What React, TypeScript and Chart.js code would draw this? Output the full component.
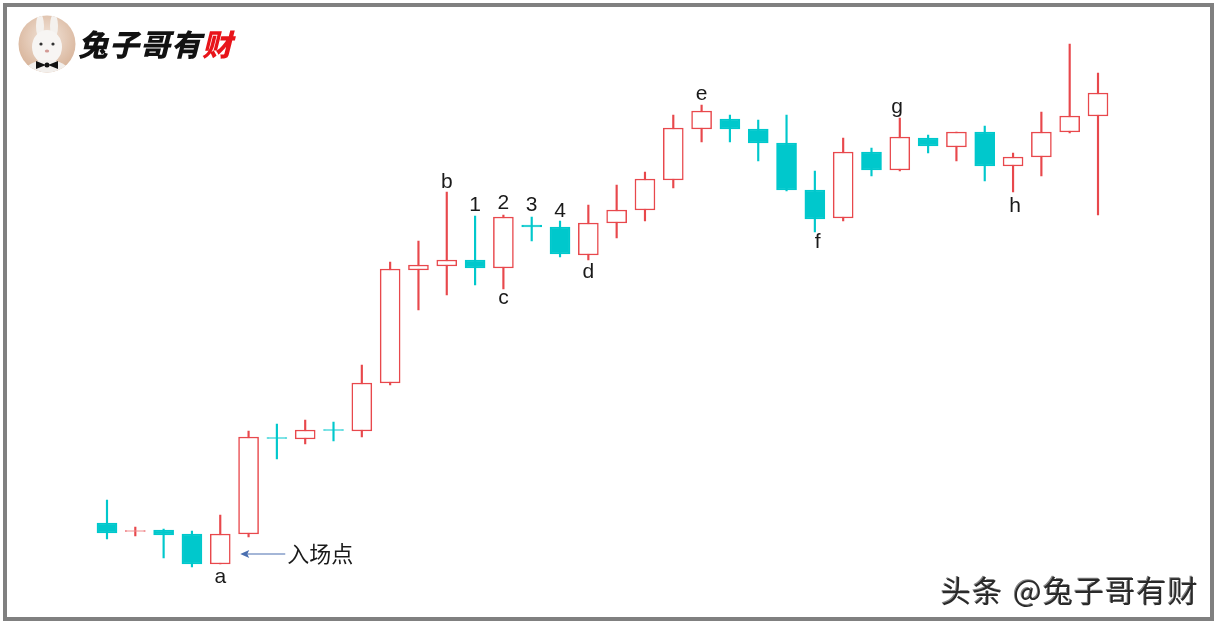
import React, { useEffect, useRef } from "react";
import { Chart, registerables } from "chart.js";

Chart.register(...registerables);

// Candle data (price units)
const opens = [100, 91.5, 93, 89, 59, 89, 185.5, 184, 193.5, 192, 240, 353, 357, 363, 355, 398, 396, 368, 400, 413, 443, 494, 504, 494, 480, 433, 405, 471, 453, 485, 476, 491, 457, 466, 491, 507];
const closes = [90, 92.5, 88, 59, 89, 186, 184.5, 193, 192.5, 240, 354, 358, 363, 355, 406, 396, 369, 400, 413, 444, 495, 512, 494, 480, 433, 404, 471, 453, 486, 477, 491, 457, 466, 491, 507, 530];
const highs = [123, 96, 94, 92, 108, 192, 199, 203, 201, 258, 361, 382, 431, 407, 408, 406, 402, 418, 438, 451, 508, 518, 508, 503, 508, 452, 485, 475, 505, 488, 491, 497, 470, 511, 579, 550];
const lows = [84, 87, 65, 56, 59, 86, 164, 179, 182, 186, 238, 313, 328, 338, 334, 382, 366, 363, 385, 402, 435, 481, 481, 462, 432, 391, 402, 447, 452, 470, 462, 442, 431, 447, 490, 408];
const categories = opens.map((_, i) => String(i + 1));

// Annotation letters: candle index, price, text
const noteIndex = [4, 12, 13, 14, 15, 16, 14, 17, 21, 25.1, 27.9, 32.07];
const notePrice = [46, 441, 418, 420, 418, 412, 325, 351, 529, 381, 516, 417];
const noteText = ["a", "b", "1", "2", "3", "4", "c", "d", "e", "f", "g", "h"];
const entryLabel = "入场点";
const entryIndex = 4;
const entryPrice = 69;

const RED = "#E8484C";
const CYAN = "#00C8CC";

export default function App() {
  const ref = useRef<HTMLCanvasElement | null>(null);

  useEffect(() => {
    if (!ref.current) return;
    const up = opens.map((o, i) => closes[i] >= o);
    const notePlugin = {
      id: "notes",
      afterDatasetsDraw(chart: any) {
        const ctx = chart.ctx;
        const xs = chart.scales.x;
        const ys = chart.scales.y;
        ctx.save();
        ctx.fillStyle = "#1a1a1a";
        ctx.font = '21px "Liberation Sans", Arial, sans-serif';
        ctx.textAlign = "center";
        ctx.textBaseline = "middle";
        noteText.forEach((t, i) => {
          const x0 = xs.getPixelForValue(Math.floor(noteIndex[i]));
          const x1 = xs.getPixelForValue(Math.floor(noteIndex[i]) + 1);
          const x = x0 + (x1 - x0) * (noteIndex[i] - Math.floor(noteIndex[i]));
          ctx.fillText(t, x, ys.getPixelForValue(notePrice[i]));
        });
        // entry arrow
        const cx = xs.getPixelForValue(entryIndex);
        const y = ys.getPixelForValue(entryPrice);
        const headX = cx + 20;
        const tailX = cx + 65;
        ctx.strokeStyle = "#4a6fb0";
        ctx.fillStyle = "#4a6fb0";
        ctx.lineWidth = 1.2;
        ctx.beginPath();
        ctx.moveTo(tailX, y);
        ctx.lineTo(headX + 6, y);
        ctx.stroke();
        ctx.beginPath();
        ctx.moveTo(headX, y);
        ctx.lineTo(headX + 9, y - 4);
        ctx.lineTo(headX + 7, y);
        ctx.lineTo(headX + 9, y + 4);
        ctx.closePath();
        ctx.fill();
        ctx.fillStyle = "#1a1a1a";
        ctx.font = '22px "Noto Sans CJK SC", sans-serif';
        ctx.textAlign = "left";
        ctx.fillText(entryLabel, tailX + 2, y);
        ctx.restore();
      },
    };

    const chart = new Chart(ref.current, {
      type: "bar",
      data: {
        labels: categories,
        datasets: [
          {
            data: lows.map((l, i) => [l, highs[i]]) as any,
            backgroundColor: up.map((u) => (u ? RED : CYAN)),
            borderWidth: 0,
            barThickness: 1.5,
            grouped: false,
            order: 2,
          } as any,
          {
            data: opens.map((o, i) => [o, closes[i]]) as any,
            backgroundColor: up.map((u) => (u ? "#ffffff" : CYAN)),
            borderColor: up.map((u) => (u ? RED : CYAN)),
            borderWidth: 1.5,
            borderSkipped: false,
            barThickness: 20,
            grouped: false,
            order: 1,
          } as any,
        ],
      },
      options: {
        responsive: false,
        animation: false,
        layout: { padding: { left: 92.84, right: 103.84, top: 0, bottom: 0 } },
        plugins: { legend: { display: false }, tooltip: { enabled: false } },
        scales: {
          x: { display: false, offset: true },
          y: { display: false, min: 0, max: 623 },
        },
      },
      plugins: [notePlugin],
    });
    return () => chart.destroy();
  }, []);

  return (
    <div style={{ position: "fixed", left: 0, top: 0, width: 1216, height: 623, background: "#fff", overflow: "hidden" }}>
      <canvas ref={ref} width={1216} height={623} style={{ position: "absolute", left: 0, top: 0, width: 1216, height: 623 }} />
      {/* Logo */}
      <svg width={60} height={60} viewBox="0 0 60 60" style={{ position: "absolute", left: 17, top: 14 }}>
        <defs>
          <radialGradient id="bg" cx="50%" cy="40%" r="60%">
            <stop offset="0%" stopColor="#f3e6dc" />
            <stop offset="100%" stopColor="#d8b49a" />
          </radialGradient>
          <clipPath id="cc"><circle cx="30" cy="30" r="28.5" /></clipPath>
        </defs>
        <circle cx="30" cy="30" r="28.5" fill="url(#bg)" />
        <g clipPath="url(#cc)">
          <ellipse cx="23" cy="12" rx="4" ry="12" fill="#f4f1ee" />
          <ellipse cx="37" cy="12" rx="4" ry="12" fill="#f4f1ee" />
          <ellipse cx="30" cy="33" rx="15" ry="17" fill="#f7f5f3" />
          <ellipse cx="30" cy="58" rx="22" ry="12" fill="#f2efec" />
          <circle cx="24" cy="30" r="1.6" fill="#333" />
          <circle cx="36" cy="30" r="1.6" fill="#333" />
          <ellipse cx="30" cy="37" rx="2.2" ry="1.5" fill="#d39a95" />
          <path d="M19 47 L29 51 L19 55 Z M41 47 L31 51 L41 55 Z" fill="#111" />
          <circle cx="30" cy="51" r="2.5" fill="#111" />
        </g>
      </svg>
      <div
        style={{
          position: "absolute",
          left: 78,
          top: 24,
          fontFamily: '"Noto Sans CJK SC", sans-serif',
          fontWeight: 900,
          fontSize: 30,
          lineHeight: "38px",
          color: "#111",
          fontStyle: "italic",
          letterSpacing: 1,
        }}
      >
        兔子哥有<span style={{ color: "#e8141a" }}>财</span>
      </div>
      {/* Watermark */}
      <div
        style={{
          position: "absolute",
          left: 941,
          top: 569,
          fontFamily: '"Noto Sans CJK SC", sans-serif',
          fontSize: 30,
          lineHeight: "40px",
          letterSpacing: 1.2,
          wordSpacing: 2,
          color: "#2a2a2a",
          textShadow: "1px 1px 0 #ffffff, -1px -1px 0 #888",
          whiteSpace: "nowrap",
        }}
      >
        头条 @兔子哥有财
      </div>
      {/* Frame */}
      <div
        style={{
          position: "absolute",
          left: 3,
          top: 3,
          width: 1211,
          height: 618,
          boxSizing: "border-box",
          border: "4px solid #808080",
          pointerEvents: "none",
        }}
      />
    </div>
  );
}
